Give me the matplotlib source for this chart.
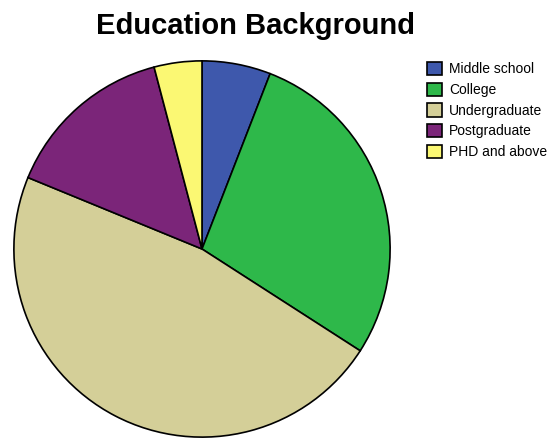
import matplotlib.pyplot as plt

# education levels and their shares (%)
labels = ['Middle school', 'College', 'Undergraduate', 'Postgraduate', 'PHD and above']
shares = [5.9, 28.2, 47.1, 14.7, 4.1]
colors = ['#3E58AC', '#2EB84A', '#D4CF98', '#7B2579', '#FBF873']

fig = plt.figure(figsize=[5.58, 4.41], dpi=100)
plt.rcParams['font.family'] = ['Liberation Sans', 'DejaVu Sans']

# pie axes, square in pixels
ax = fig.add_axes([12/558, 2/441, 380/558, 380/441])
wedges, _ = ax.pie(shares, colors=colors, startangle=90, counterclock=False,
                   radius=1, wedgeprops={'edgecolor': 'black', 'linewidth': 1.2})
ax.set_xlim(-1.01, 1.01)
ax.set_ylim(-1.01, 1.01)
ax.axis('off')

fig.text(255/558, 1 - 26/441, 'Education Background', ha='center', va='center',
         fontsize=21, fontweight='bold')

leg = fig.legend(wedges, labels, loc='upper left', bbox_to_anchor=(427/558, 1 - 62/441),
                 frameon=False, fontsize=10, handlelength=1.1, handleheight=1.1,
                 handletextpad=0.5, labelspacing=0.45, borderaxespad=0, borderpad=0)

fig.savefig('out.png', dpi=100)
